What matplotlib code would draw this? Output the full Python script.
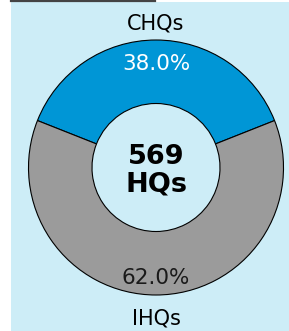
import matplotlib.pyplot as plt
from matplotlib.patches import Rectangle
from matplotlib.lines import Line2D

labels = ['CHQs', 'IHQs']
shares = [38.0, 62.0]
total_hqs = 569
colours = ['#0096d6', '#9b9b9b']
pct_colours = ['white', '#1a1a1a']

fig = plt.figure(figsize=(2.89, 3.31), dpi=100)
fig.patch.set_facecolor('white')

# light blue panel, white strip on the left
fig.add_artist(Rectangle((11 / 289, 0), 1, (331 - 2) / 331,
                         transform=fig.transFigure, facecolor='#cdedf7',
                         edgecolor='none', zorder=0))
# cut-off text from above the panel
fig.add_artist(Line2D([11 / 289, 155 / 289], [1 - 0.8 / 331] * 2,
                      transform=fig.transFigure, color='#444444', lw=1.6))

ax = fig.add_axes([0, 0, 1, 1])
ax.set_facecolor('none')

start = 90 - shares[0] / 100 * 360 / 2
wedges, texts, autotexts = ax.pie(
    shares, labels=labels, colors=colours, startangle=start,
    center=(156, 163.5), radius=127.5,
    autopct='%.1f%%', pctdistance=0.84, labeldistance=1.16,
    wedgeprops=dict(width=63.5, edgecolor='black', linewidth=0.8),
    textprops=dict(fontsize=15, family='DejaVu Sans'))

# nudge all texts a little lower, as in the reference
for t in texts + autotexts:
    x, y = t.get_position()
    t.set_position((x, y - 3.5))
for t in texts:
    t.set_ha('center')
for t, c in zip(autotexts, pct_colours):
    t.set_color(c)
    t.set_fontsize(15.5)

ax.text(156, 160.5, f'{total_hqs}\nHQs', ha='center', va='center',
        fontsize=19.5, fontweight='bold', linespacing=1.1)

ax.set_xlim(0, 289)
ax.set_ylim(0, 331)
ax.set_aspect('auto')
ax.axis('off')

fig.savefig('out.png', dpi=100)
